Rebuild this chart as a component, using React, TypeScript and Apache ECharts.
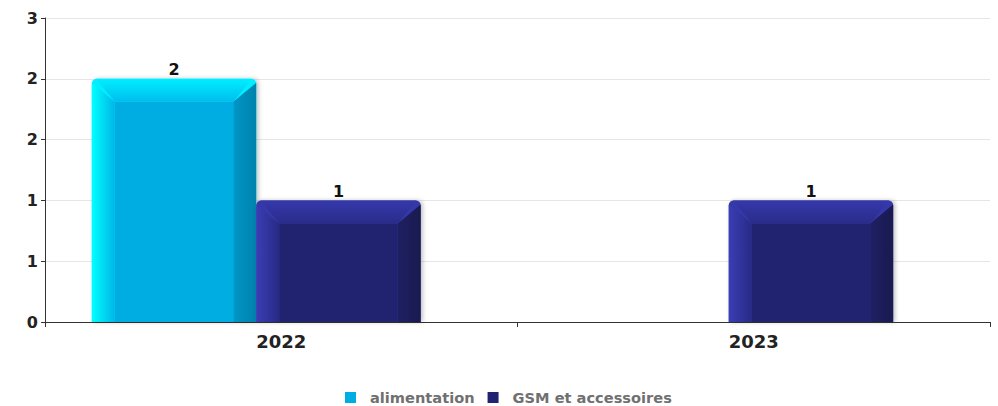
import React, { useEffect, useRef } from "react";
import * as echarts from "echarts";

const categories = ["2022", "2023"];
const seriesNames = ["alimentation", "GSM et accessoires"];
const alimentation = [2, 0];
const gsm = [1, 1];
const yTicks = { min: 0, max: 2.5, interval: 0.5 };

const palettes = [
  { face: "#00ade3", leftA: "#00ffff", leftB: "#00b6e8", topA: "#00eeff", topB: "#00bdee", rightA: "#0096c6", rightB: "#0082ad" },
  { face: "#222370", leftA: "#3b3eb4", leftB: "#272a84", topA: "#3538aa", topB: "#2a2c8a", rightA: "#1f2062", rightB: "#191a4f" },
];

function makeRender(seriesIdx: number) {
  return (params: any, api: any) => {
    const cat = api.value(0);
    const val = api.value(1);
    if (!val) return { type: "group", children: [] };
    const p = palettes[seriesIdx];
    const center = api.coord([cat, val]);
    const base = api.coord([cat, 0]);
    const catW = api.size([1, 0])[0];
    const W = catW * 0.348;
    const x = center[0] - W + seriesIdx * W;
    const y = center[1];
    const bottom = base[1];
    const H = bottom - y;
    const bw = Math.min(23, W * 0.14);
    const r = 5;
    const lg = (x1: number, y1: number, x2: number, y2: number, a: string, b: string) =>
      new echarts.graphic.LinearGradient(x1, y1, x2, y2, [
        { offset: 0, color: a },
        { offset: 1, color: b },
      ]);
    return {
      type: "group",
      children: [
        {
          type: "rect",
          shape: { x, y, width: W, height: H, r: [r, r, 0, 0] },
          style: { fill: p.topA, shadowBlur: 4, shadowColor: "rgba(0,0,0,0.25)", shadowOffsetX: 2, shadowOffsetY: 0 },
        },
        {
          type: "rect",
          shape: { x: x + bw, y: y + bw, width: W - 2 * bw, height: H - bw },
          style: { fill: p.face },
        },
        {
          type: "polygon",
          shape: { points: [[x, y + r - 1], [x + bw, y + bw], [x + bw, bottom], [x, bottom]] },
          style: { fill: lg(0, 0, 1, 0, p.leftA, p.leftB) },
        },
        {
          type: "polygon",
          shape: { points: [[x + r - 1, y], [x + W - r + 1, y], [x + W - bw, y + bw], [x + bw, y + bw]] },
          style: { fill: lg(0, 0, 0, 1, p.topA, p.topB) },
        },
        {
          type: "polygon",
          shape: { points: [[x + W, y + r - 1], [x + W, bottom], [x + W - bw, bottom], [x + W - bw, y + bw]] },
          style: { fill: lg(0, 0, 1, 0, p.rightA, p.rightB) },
        },
        {
          type: "text",
          style: {
            text: String(val),
            x: x + W / 2,
            y: y - 1,
            align: "center",
            verticalAlign: "bottom",
            fill: "#111",
            font: "bold 16px 'DejaVu Sans'",
          },
        },
      ],
    };
  };
}

export default function App() {
  const ref = useRef<HTMLDivElement>(null);
  useEffect(() => {
    if (!ref.current) return;
    const chart = echarts.init(ref.current, null, { renderer: "svg" });
    const font = "DejaVu Sans";
    chart.setOption({
      animation: false,
      backgroundColor: "#fff",
      legend: {
        data: seriesNames.map((n, i) => ({ name: n, icon: "rect", itemStyle: { color: palettes[i].face } })),
        left: 340,
        bottom: -4,
        itemWidth: 11,
        itemHeight: 11,
        itemGap: 13,
        textStyle: { fontFamily: font, fontWeight: "bold", fontSize: 14.6, color: "#707070", padding: [0, 0, 0, 9] },
      },
      grid: [
        { left: 45, right: 8, top: 18, bottom: 84 },
        { left: 20, right: 33, top: 18, bottom: 84 },
      ],
      xAxis: [
        {
          type: "category",
          gridIndex: 0,
          data: categories,
          boundaryGap: true,
          axisLine: { lineStyle: { color: "#333", width: 1 } },
          axisTick: { show: true, length: 5, lineStyle: { color: "#333" } },
          axisLabel: { fontFamily: font, fontWeight: "bold", fontSize: 18, color: "#222", margin: 10 },
        },
        {
          type: "category",
          gridIndex: 1,
          data: categories,
          show: false,
        },
      ],
      yAxis: [
        {
          type: "value",
          gridIndex: 0,
          ...yTicks,
          axisLine: { show: true, lineStyle: { color: "#333" } },
          axisTick: { show: true, length: 4, lineStyle: { color: "#333" } },
          axisLabel: {
            fontFamily: font,
            fontWeight: "bold",
            fontSize: 16,
            color: "#222",
            margin: 7,
            formatter: (v: number) => String(Math.round(v)),
          },
          splitLine: { lineStyle: { color: "#e6e6e6" } },
        },
        {
          type: "value",
          gridIndex: 1,
          ...yTicks,
          show: false,
          splitLine: { show: false },
        },
      ],
      series: [
        {
          name: seriesNames[0],
          type: "custom",
          xAxisIndex: 1,
          yAxisIndex: 1,
          itemStyle: { color: palettes[0].face },
          renderItem: makeRender(0),
          encode: { x: 0, y: 1 },
          data: alimentation.map((v, i) => [i, v]),
        },
        {
          name: seriesNames[1],
          type: "custom",
          xAxisIndex: 1,
          yAxisIndex: 1,
          itemStyle: { color: palettes[1].face },
          renderItem: makeRender(1),
          encode: { x: 0, y: 1 },
          data: gsm.map((v, i) => [i, v]),
        },
      ],
    });
    return () => chart.dispose();
  }, []);
  return <div ref={ref} style={{ width: 998, height: 406, position: "absolute", left: 0, top: 0 }} />;
}
